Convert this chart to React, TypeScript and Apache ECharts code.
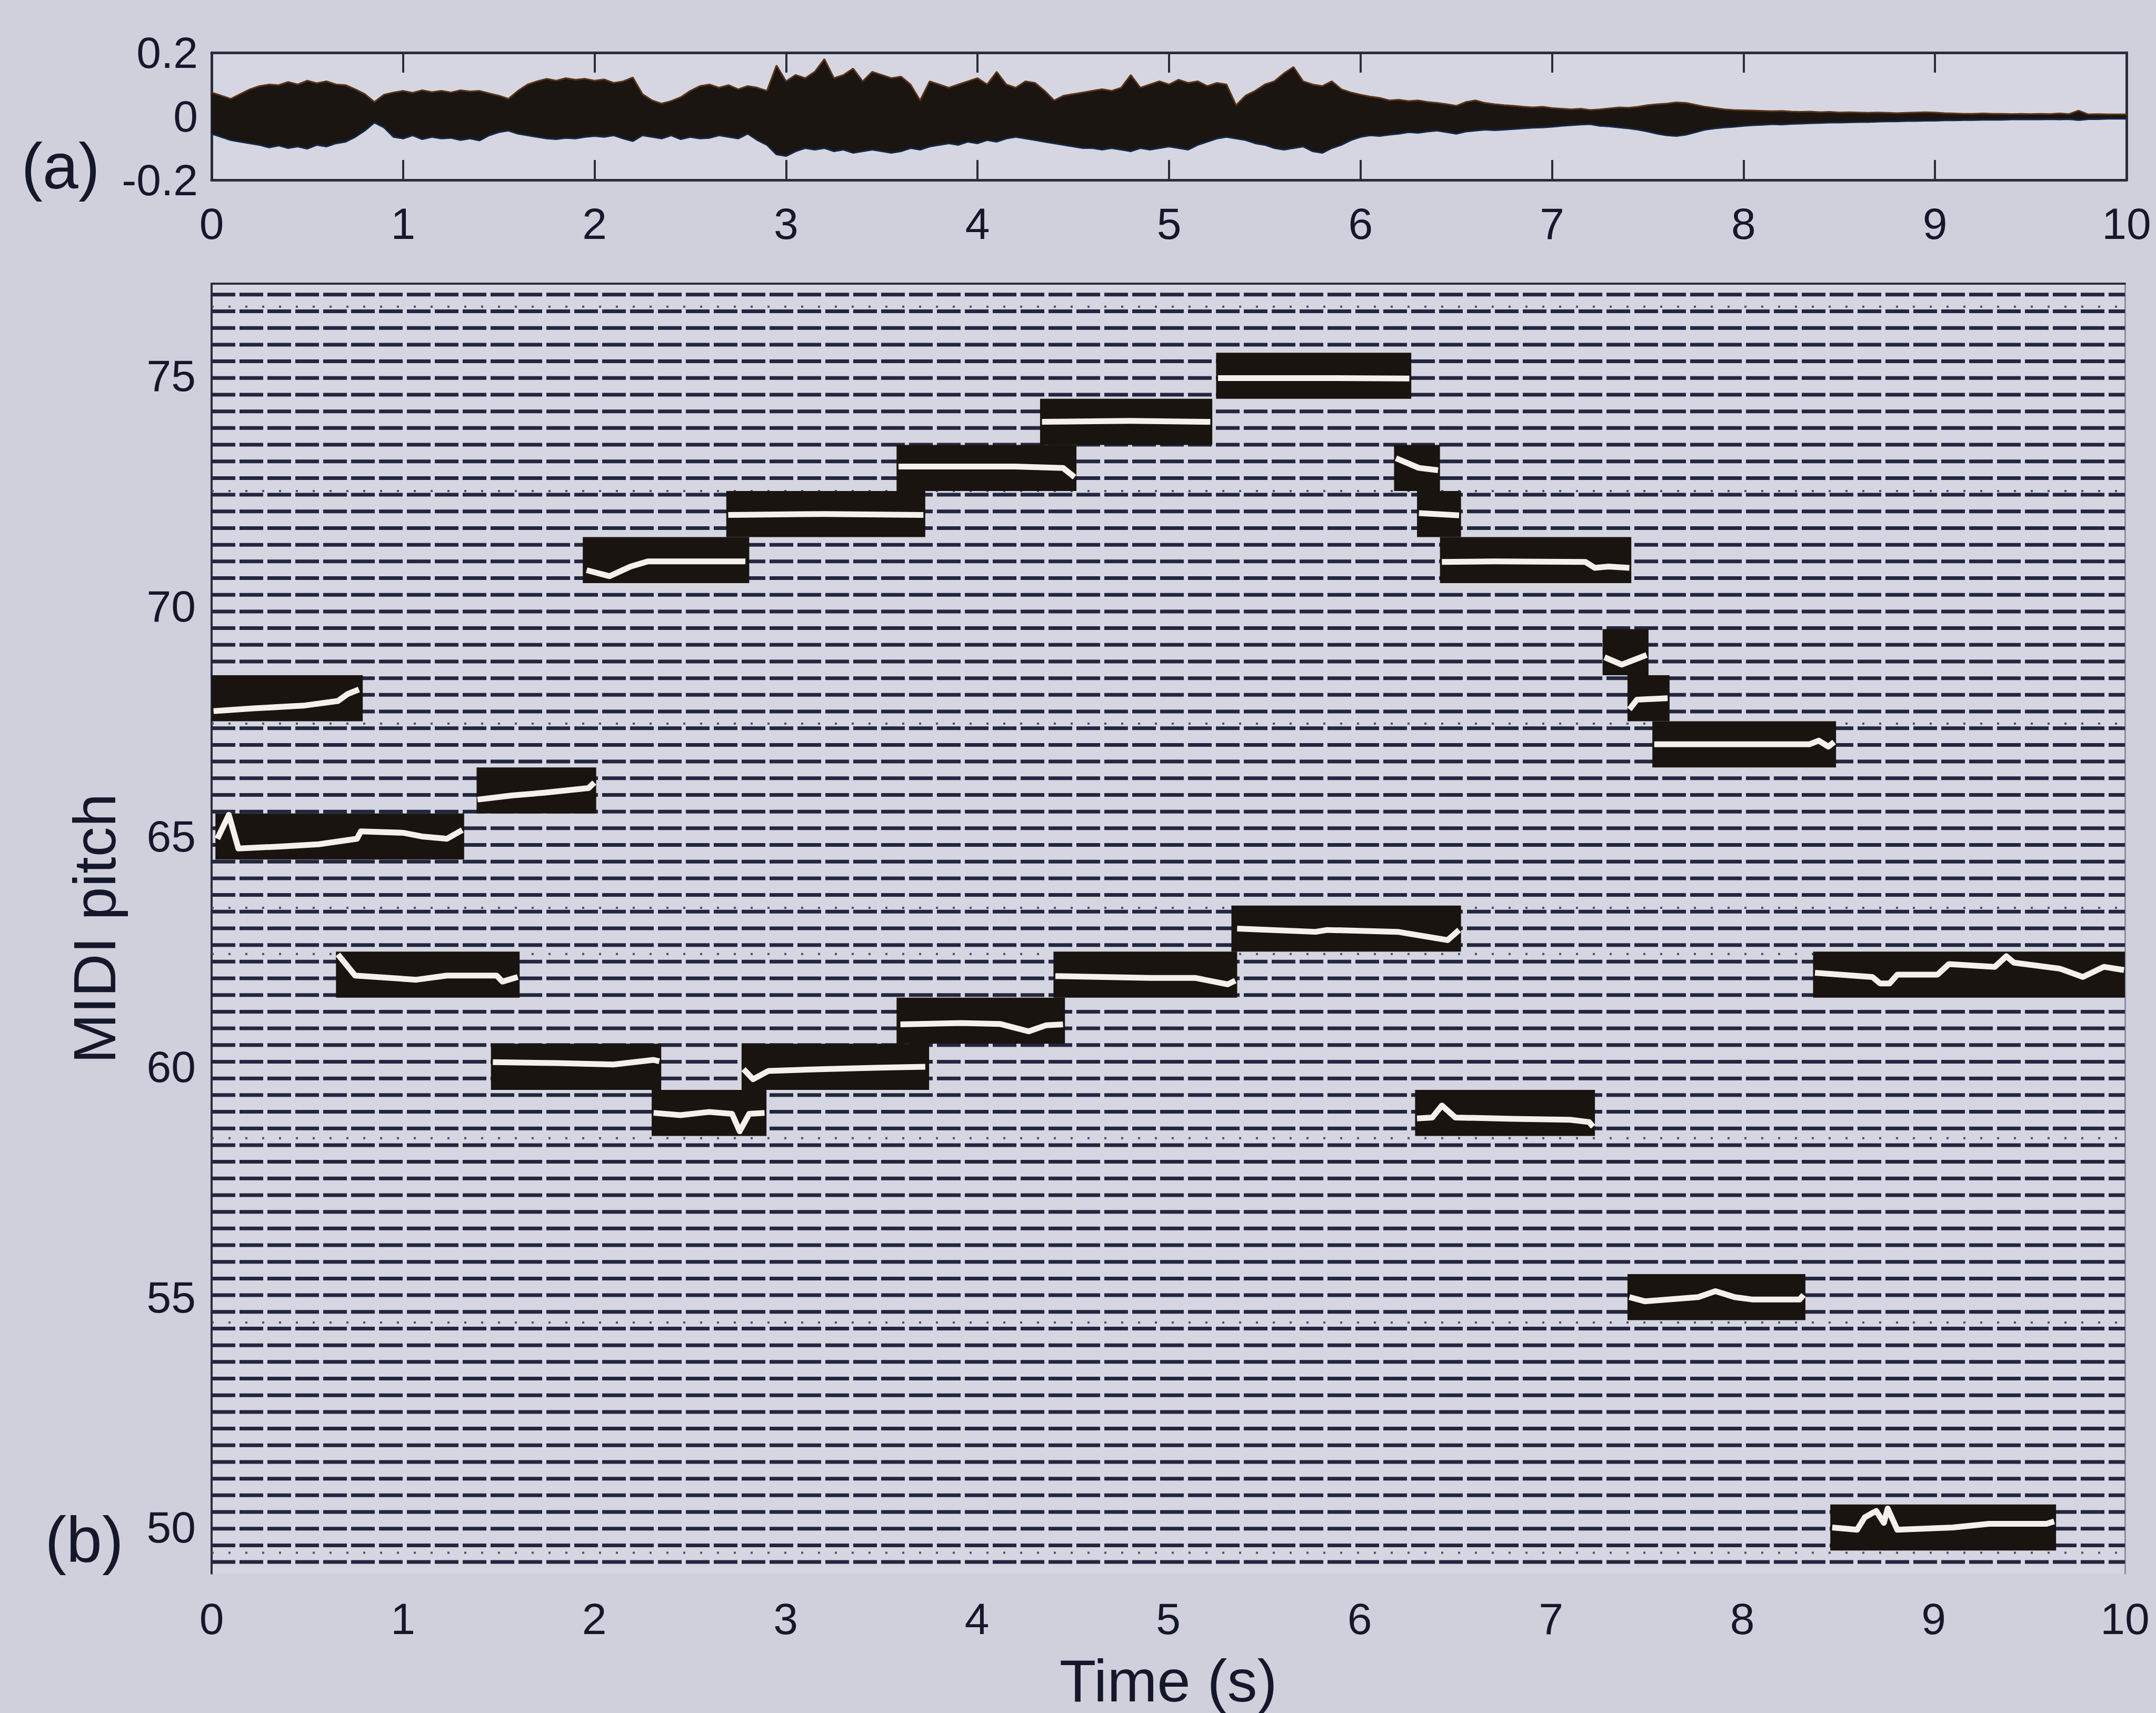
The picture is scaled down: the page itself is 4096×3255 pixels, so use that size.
import React, { useEffect, useRef } from "react";
import * as echarts from "echarts";

const W = 4096;
const H = 3255;
const FONT = "'Liberation Sans', Arial, Helvetica, sans-serif";
const TEXT = "#15172b";
const FRAME = "#2c2d3c";

// ---------- (a) waveform envelope, sampled every 0.05 s ----------
const waveStep = 0.05;
const waveUpper = [
  0.075, 0.065, 0.055, 0.07, 0.085, 0.095, 0.1, 0.098, 0.108, 0.1,
  0.112, 0.104, 0.11, 0.1, 0.098, 0.085, 0.07, 0.045, 0.068, 0.075,
  0.08, 0.074, 0.082, 0.076, 0.08, 0.075, 0.082, 0.078, 0.08, 0.072,
  0.065, 0.055, 0.08, 0.1, 0.11, 0.118, 0.112, 0.12, 0.115, 0.118,
  0.112, 0.116, 0.105, 0.11, 0.122, 0.07, 0.05, 0.04, 0.048, 0.06,
  0.08, 0.095, 0.1, 0.09, 0.098, 0.085, 0.095, 0.09, 0.08, 0.16,
  0.11, 0.13, 0.12, 0.14, 0.18, 0.12, 0.13, 0.15, 0.11, 0.14,
  0.13, 0.12, 0.125, 0.1, 0.05, 0.11, 0.1, 0.09, 0.1, 0.11,
  0.12, 0.1, 0.14, 0.1, 0.09, 0.11, 0.105, 0.08, 0.05, 0.065,
  0.07, 0.075, 0.08, 0.085, 0.08, 0.09, 0.13, 0.09, 0.1, 0.11,
  0.1, 0.115, 0.105, 0.11, 0.095, 0.105, 0.1, 0.035, 0.065, 0.08,
  0.1, 0.11, 0.135, 0.155, 0.11, 0.1, 0.095, 0.11, 0.085, 0.075,
  0.068, 0.062, 0.058, 0.05, 0.052, 0.048, 0.05, 0.045, 0.042, 0.038,
  0.033, 0.045, 0.05, 0.042, 0.038, 0.035, 0.033, 0.03, 0.028, 0.03,
  0.026, 0.024, 0.022, 0.024, 0.02, 0.022, 0.025, 0.028, 0.027, 0.03,
  0.035, 0.038, 0.04, 0.044, 0.042, 0.036, 0.03, 0.026, 0.022, 0.02,
  0.019, 0.018, 0.017, 0.016, 0.017, 0.015, 0.014, 0.015, 0.013, 0.014,
  0.012, 0.013, 0.012, 0.011, 0.012, 0.011, 0.01, 0.011, 0.012, 0.013,
  0.012, 0.01, 0.009, 0.008, 0.008, 0.009, 0.008, 0.008, 0.007, 0.008,
  0.007, 0.008, 0.007, 0.009, 0.007, 0.018, 0.006, 0.007, 0.006, 0.006,
  0.006,
];
const waveLower = [
  -0.055, -0.065, -0.075, -0.08, -0.085, -0.09, -0.098, -0.092, -0.1, -0.095,
  -0.102, -0.09, -0.095, -0.085, -0.08, -0.065, -0.045, -0.02, -0.035, -0.065,
  -0.07, -0.06, -0.072, -0.065, -0.07, -0.068, -0.075, -0.07, -0.076, -0.06,
  -0.05, -0.045, -0.055, -0.06, -0.065, -0.07, -0.072, -0.068, -0.07, -0.065,
  -0.062, -0.065, -0.06, -0.07, -0.078, -0.06, -0.065, -0.07, -0.06, -0.072,
  -0.065, -0.07, -0.068, -0.06, -0.065, -0.07, -0.055, -0.075, -0.09, -0.12,
  -0.125, -0.11, -0.1, -0.105, -0.1, -0.11, -0.105, -0.115, -0.11, -0.105,
  -0.11, -0.115, -0.11, -0.1, -0.105, -0.095, -0.09, -0.085, -0.09, -0.08,
  -0.085, -0.075, -0.08, -0.07, -0.065, -0.07, -0.075, -0.08, -0.085, -0.09,
  -0.095, -0.1, -0.1, -0.105, -0.1, -0.105, -0.11, -0.1, -0.105, -0.1,
  -0.095, -0.1, -0.105, -0.09, -0.08, -0.07, -0.065, -0.07, -0.075, -0.085,
  -0.09, -0.1, -0.105, -0.1, -0.095, -0.11, -0.115, -0.1, -0.09, -0.075,
  -0.065, -0.06, -0.062, -0.058, -0.055, -0.05, -0.052, -0.048, -0.045, -0.05,
  -0.055, -0.048, -0.045, -0.042, -0.044, -0.042, -0.04, -0.038, -0.036, -0.035,
  -0.033, -0.03, -0.028, -0.026, -0.025, -0.03, -0.032, -0.035, -0.038, -0.042,
  -0.048, -0.055, -0.06, -0.062, -0.058, -0.05, -0.042, -0.038, -0.035, -0.033,
  -0.03, -0.028, -0.027, -0.025, -0.026, -0.024, -0.023, -0.022, -0.021, -0.02,
  -0.02, -0.019, -0.018, -0.018, -0.017, -0.016, -0.016, -0.015, -0.015, -0.014,
  -0.014, -0.013, -0.013, -0.012, -0.012, -0.011, -0.011, -0.011, -0.01, -0.01,
  -0.01, -0.01, -0.009, -0.01, -0.009, -0.012, -0.009, -0.009, -0.008, -0.008,
  -0.008,
];

// ---------- (b) pitch bins (background rows) ----------
const binStart = 49.25;
const binStep = 0.362;
const binCount = 77;
const dottedRows = [49.45, 54.45, 58.45, 62.45, 63.45, 67.45, 72.5, 76.5];

// ---------- (b) notes: [onset s, offset s, MIDI pitch] ----------
const notes = [
  [0.0, 0.79, 68],
  [0.02, 1.32, 65],
  [0.65, 1.61, 62],
  [1.385, 2.01, 66],
  [1.46, 2.35, 60],
  [1.94, 2.81, 71],
  [2.3, 2.9, 59],
  [2.69, 3.73, 72],
  [2.77, 3.75, 60],
  [3.58, 4.52, 73],
  [3.58, 4.46, 61],
  [4.33, 5.23, 74],
  [4.4, 5.36, 62],
  [5.25, 6.27, 75],
  [5.33, 6.53, 63],
  [6.18, 6.42, 73],
  [6.3, 6.53, 72],
  [6.42, 7.42, 71],
  [6.29, 7.23, 59],
  [7.27, 7.51, 69],
  [7.4, 7.62, 68],
  [7.53, 8.49, 67],
  [7.4, 8.33, 55],
  [8.37, 10.0, 62],
  [8.46, 9.64, 50],
];

// ---------- (b) estimated pitch contours: [time s, MIDI pitch] ----------
const contours = [
  [[0.01, 67.72], [0.22, 67.78], [0.48, 67.84], [0.66, 67.94], [0.71, 68.09], [0.77, 68.19]],
  [[0.03, 64.95], [0.09, 65.47], [0.14, 64.74], [0.35, 64.78], [0.56, 64.83], [0.76, 64.95], [0.78, 65.11], [1.0, 65.08], [1.1, 65.0], [1.23, 64.95], [1.31, 65.14]],
  [[0.66, 62.44], [0.75, 61.98], [1.07, 61.89], [1.23, 61.98], [1.49, 61.98], [1.52, 61.85], [1.6, 61.95]],
  [[1.39, 65.8], [1.57, 65.89], [1.74, 65.95], [1.97, 66.05], [2.0, 66.17]],
  [[1.47, 60.1], [1.8, 60.08], [2.1, 60.05], [2.31, 60.15], [2.34, 60.12]],
  [[1.96, 70.78], [2.08, 70.65], [2.19, 70.86], [2.28, 70.97], [2.79, 70.97]],
  [[2.31, 59.0], [2.45, 58.95], [2.6, 59.02], [2.72, 58.98], [2.76, 58.6], [2.81, 58.98], [2.89, 59.0]],
  [[2.7, 71.98], [3.2, 72.0], [3.72, 71.98]],
  [[2.78, 59.95], [2.83, 59.73], [2.91, 59.91], [3.2, 59.95], [3.49, 59.98], [3.73, 60.0]],
  [[3.59, 73.03], [4.2, 73.03], [4.45, 73.0], [4.51, 72.8]],
  [[3.6, 60.92], [3.92, 60.95], [4.12, 60.93], [4.27, 60.77], [4.36, 60.9], [4.45, 60.92]],
  [[4.34, 74.0], [4.8, 74.02], [5.22, 74.0]],
  [[4.41, 61.97], [4.91, 61.93], [5.14, 61.93], [5.31, 61.79], [5.35, 61.87]],
  [[5.26, 74.95], [5.8, 74.95], [6.26, 74.94]],
  [[5.36, 63.0], [5.77, 62.93], [5.83, 62.97], [6.2, 62.93], [6.46, 62.75], [6.52, 62.97]],
  [[6.19, 73.21], [6.31, 73.0], [6.41, 72.95]],
  [[6.31, 72.02], [6.52, 71.97]],
  [[6.43, 70.96], [6.7, 70.97], [7.18, 70.96], [7.23, 70.83], [7.3, 70.86], [7.41, 70.83]],
  [[6.3, 58.88], [6.38, 58.9], [6.43, 59.16], [6.5, 58.9], [6.8, 58.87], [7.1, 58.85], [7.2, 58.8], [7.22, 58.7]],
  [[7.28, 68.89], [7.37, 68.73], [7.5, 68.94]],
  [[7.41, 67.76], [7.45, 67.97], [7.61, 68.0]],
  [[7.54, 67.0], [8.35, 67.0], [8.4, 67.08], [8.45, 66.95], [8.48, 67.05]],
  [[7.41, 55.0], [7.49, 54.91], [7.77, 55.0], [7.86, 55.13], [7.96, 55.0], [8.05, 54.95], [8.3, 54.95], [8.32, 55.05]],
  [[8.38, 62.04], [8.68, 61.95], [8.72, 61.81], [8.77, 61.81], [8.81, 62.0], [9.02, 62.0], [9.08, 62.23], [9.32, 62.17], [9.38, 62.4], [9.42, 62.26], [9.66, 62.13], [9.78, 61.95], [9.89, 62.17], [9.995, 62.1]],
  [[8.47, 50.0], [8.6, 49.95], [8.64, 50.22], [8.7, 50.36], [8.74, 50.1], [8.76, 50.41], [8.81, 49.95], [9.1, 50.0], [9.29, 50.08], [9.59, 50.08], [9.63, 50.13]],
];

const timeMin = 0;
const timeMax = 10;
const ampMin = -0.2;
const ampMax = 0.2;
const pitchMin = 49;
const pitchMax = 77;

function buildOption() {
  const binRows: number[][] = [];
  for (let k = 0; k < binCount; k++) binRows.push([timeMin, binStart + k * binStep, timeMax]);

  const rowRender = (width: number, dash: number[], color: string) => (params: any, api: any) => {
    const a = api.coord([api.value(0), api.value(1)]);
    const b = api.coord([api.value(2), api.value(1)]);
    return {
      type: "line",
      shape: { x1: a[0], y1: a[1], x2: b[0], y2: b[1] },
      style: { stroke: color, lineWidth: width, lineDash: dash },
    };
  };

  const axisLineStyle = { color: FRAME, width: 5 };
  const labelBase = { fontFamily: FONT, fontSize: 84, color: TEXT };

  const series: any[] = [
    {
      type: "line",
      xAxisIndex: 0,
      yAxisIndex: 0,
      data: waveUpper.map((v, i) => [i * waveStep, v]),
      symbol: "none",
      lineStyle: { color: "#5b3417", width: 3 },
      areaStyle: { color: "#1b1512", opacity: 1 },
      z: 3,
    },
    {
      type: "line",
      xAxisIndex: 0,
      yAxisIndex: 0,
      data: waveLower.map((v, i) => [i * waveStep, v]),
      symbol: "none",
      lineStyle: { color: "#13284a", width: 3 },
      areaStyle: { color: "#1b1512", opacity: 1 },
      z: 3,
    },
    {
      type: "custom",
      xAxisIndex: 2,
      yAxisIndex: 2,
      data: binRows,
      renderItem: rowRender(7, [45, 8], "#23263f"),
      silent: true,
      z: 1,
    },
    {
      type: "custom",
      xAxisIndex: 2,
      yAxisIndex: 2,
      data: dottedRows.map((p) => [timeMin, p, timeMax]),
      renderItem: rowRender(4, [4, 28], "#4a4e6c"),
      silent: true,
      z: 1,
    },
    {
      type: "custom",
      xAxisIndex: 2,
      yAxisIndex: 2,
      data: notes,
      renderItem: (params: any, api: any) => {
        const t0 = api.value(0);
        const t1 = api.value(1);
        const p = api.value(2);
        const tl = api.coord([t0, p + 0.5]);
        const br = api.coord([t1, p - 0.5]);
        return {
          type: "rect",
          shape: { x: tl[0], y: tl[1], width: br[0] - tl[0], height: br[1] - tl[1] },
          style: { fill: "#1a1411" },
        };
      },
      silent: true,
      z: 3,
    },
  ];

  contours.forEach((c) => {
    series.push({
      type: "line",
      xAxisIndex: 2,
      yAxisIndex: 2,
      data: c,
      symbol: "none",
      lineStyle: { color: "#f4f1ea", width: 11, join: "round" },
      silent: true,
      z: 5,
    });
  });

  return {
    animation: false,
    backgroundColor: "#cfd0dc",
    textStyle: { fontFamily: FONT },
    grid: [
      { left: 402, right: 56, top: 100, height: 242, show: true, backgroundColor: "#d5d6e1", borderWidth: 0 },
      { left: 402, right: 59, top: 539, height: 2460, show: true, backgroundColor: "#d5d6e1", borderWidth: 0 },
    ],
    xAxis: [
      {
        gridIndex: 0, type: "value", min: timeMin, max: timeMax, interval: 1, position: "bottom",
        axisLine: { show: true, onZero: false, lineStyle: axisLineStyle },
        axisTick: { show: true, inside: true, length: 38, lineStyle: { color: FRAME, width: 4 } },
        axisLabel: { ...labelBase, margin: 41 },
        splitLine: { show: false },
      },
      {
        gridIndex: 0, type: "value", min: timeMin, max: timeMax, interval: 1, position: "top",
        axisLine: { show: true, onZero: false, lineStyle: axisLineStyle },
        axisTick: { show: true, inside: true, length: 38, lineStyle: { color: FRAME, width: 4 } },
        axisLabel: { show: false },
        splitLine: { show: false },
      },
      {
        gridIndex: 1, type: "value", min: timeMin, max: timeMax, interval: 1, position: "bottom",
        axisLine: { show: false },
        axisTick: { show: false },
        axisLabel: { ...labelBase, margin: 44 },
        splitLine: { show: false },
        name: "Time (s)",
        nameLocation: "middle",
        nameGap: 146,
        nameTextStyle: { fontFamily: FONT, fontSize: 114, color: TEXT },
      },
      {
        gridIndex: 1, type: "value", min: timeMin, max: timeMax, interval: 1, position: "top",
        axisLine: { show: true, onZero: false, lineStyle: { color: FRAME, width: 4 } },
        axisTick: { show: false },
        axisLabel: { show: false },
        splitLine: { show: false },
      },
    ],
    yAxis: [
      {
        gridIndex: 0, type: "value", min: ampMin, max: ampMax, interval: 0.2, position: "left",
        axisLine: { show: true, onZero: false, lineStyle: axisLineStyle },
        axisTick: { show: true, inside: true, length: 20, lineStyle: { color: FRAME, width: 5 } },
        axisLabel: { ...labelBase, margin: 26 },
        splitLine: { show: false },
      },
      {
        gridIndex: 0, type: "value", min: ampMin, max: ampMax, interval: 0.2, position: "right",
        axisLine: { show: true, onZero: false, lineStyle: axisLineStyle },
        axisTick: { show: true, inside: true, length: 20, lineStyle: { color: FRAME, width: 5 } },
        axisLabel: { show: false },
        splitLine: { show: false },
      },
      {
        gridIndex: 1, type: "value", min: pitchMin, max: pitchMax, interval: 1, position: "left",
        axisLine: { show: true, onZero: false, lineStyle: { color: FRAME, width: 4 } },
        axisTick: { show: false },
        axisLabel: {
          ...labelBase,
          margin: 30,
          formatter: (v: number) => (Math.round(v) % 5 === 0 ? String(Math.round(v)) : ""),
        },
        splitLine: { show: false },
        name: "MIDI pitch",
        nameLocation: "middle",
        nameGap: 166,
        nameRotate: 90,
        nameTextStyle: { fontFamily: FONT, fontSize: 114, color: TEXT },
      },
      {
        gridIndex: 1, type: "value", min: pitchMin, max: pitchMax, interval: 1, position: "right",
        axisLine: { show: true, onZero: false, lineStyle: { color: "#8c8ea4", width: 3 } },
        axisTick: { show: false },
        axisLabel: { show: false },
        splitLine: { show: false },
      },
    ],
    graphic: [
      {
        type: "text", x: 115, y: 316,
        style: { text: "(a)", fontFamily: FONT, fontSize: 122, fill: TEXT, textAlign: "center", textVerticalAlign: "middle" },
      },
      {
        type: "text", x: 160, y: 2926,
        style: { text: "(b)", fontFamily: FONT, fontSize: 122, fill: TEXT, textAlign: "center", textVerticalAlign: "middle" },
      },
    ],
    series,
  };
}

export default function App() {
  const ref = useRef<HTMLDivElement>(null);
  useEffect(() => {
    document.body.style.margin = "0";
    const chart = echarts.init(ref.current!, null, { renderer: "svg", width: W, height: H });
    chart.setOption(buildOption() as any);
    return () => chart.dispose();
  }, []);
  return <div ref={ref} style={{ position: "fixed", left: 0, top: 0, width: W, height: H }} />;
}
